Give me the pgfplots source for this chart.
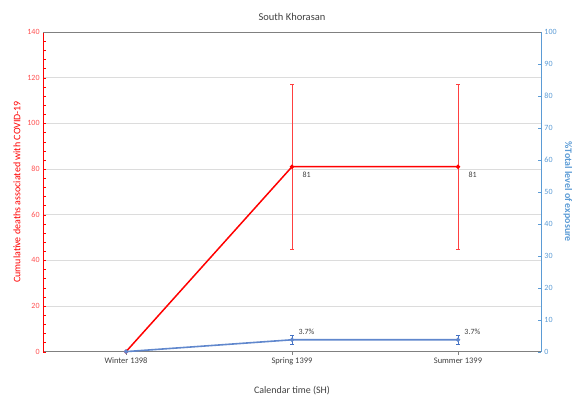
\documentclass[border=0pt]{standalone}
\usepackage{pgfplots}
\pgfplotsset{compat=1.18}
\usepackage{fontspec}
\setmainfont{Carlito}
\definecolor{redl}{RGB}{255,0,0}
\definecolor{redt}{RGB}{255,80,80}
\definecolor{bluel}{RGB}{68,114,196}
\definecolor{bluea}{RGB}{91,155,213}
\definecolor{gridc}{RGB}{220,220,220}
\definecolor{txt}{RGB}{64,64,64}
\begin{document}
\begin{tikzpicture}
\begin{axis}[
  name=left,
  /pgf/number format/assume math mode=true,
  scale only axis, width=497bp, height=319bp,
  xmin=-0.5, xmax=2.5, ymin=0, ymax=140,
  xtick={0,1,2}, xticklabels={Winter 1398, Spring 1399, Summer 1399},
  ytick={0,20,...,140}, minor y tick num=4,
  axis x line*=bottom, axis y line*=left,
  x axis line style={-, draw=gray, line width=0.8pt},
  y axis line style={-, draw=redl, line width=0.6pt},
  ymajorgrids, grid style={gridc, line width=0.6pt},
  xtick align=outside, ytick align=inside,
  major tick length=3bp, minor tick length=2.5bp,
  xtick style={draw=gray},
  ytick style={draw=redl},
  yticklabel style={font=\fontsize{8}{9}\selectfont, text=redt},
  xticklabel style={font=\fontsize{8.5}{10}\selectfont, text=txt},
  ylabel={Cumulative deaths associated with COVID-19},
  ylabel style={font=\fontsize{10}{12}\selectfont, text=redl},
  xlabel={Calendar time (SH)},
  xlabel style={font=\fontsize{10}{12}\selectfont, text=txt, yshift=-14bp},
  title={South Khorasan},
  title style={font=\fontsize{10.5}{12}\selectfont, text=txt, yshift=2bp},
  clip=false,
]
\addplot[redl, line width=1.5pt, mark=*, mark size=1.3pt,
  error bars/.cd, y dir=both, y explicit,
  error bar style={redl!75, line width=0.5pt},
  error mark options={rotate=90, mark size=1.6pt, redl!75, line width=0.5pt}]
  coordinates {(0,0) +- (0,0) (1,81) +- (0,36) (2,81) +- (0,36)};
\addplot[draw=none, mark=none, nodes near coords,
  point meta=explicit symbolic,
  every node near coord/.style={anchor=north west, xshift=7bp, yshift=-2bp,
    font=\fontsize{8}{9}\selectfont, text=txt}]
  coordinates {(1,81) [81] (2,81) [81]};
\end{axis}
\begin{axis}[
  /pgf/number format/assume math mode=true,
  scale only axis, width=497bp, height=319bp,
  xmin=-0.5, xmax=2.5, ymin=0, ymax=100,
  axis x line=none, axis y line*=right,
  y axis line style={-, draw=bluea, line width=0.6pt},
  ytick={0,10,...,100},
  ytick align=inside, major tick length=3bp,
  ytick style={draw=bluea},
  yticklabel style={font=\fontsize{8}{9}\selectfont, text=bluea},
  ylabel={\bfseries \%Total level of exposure},
  ylabel style={font=\fontsize{10}{12}\selectfont, text=bluea, rotate=180},
  clip=false,
]
\addplot[bluel!85, line width=1.6pt, mark=*, mark size=1.3pt,
  error bars/.cd, y dir=both, y explicit,
  error bar style={bluel, line width=0.6pt},
  error mark options={rotate=90, mark size=1.8pt, bluel, line width=0.6pt}]
  coordinates {(0,0) +- (0,0) (1,3.7) +- (0,1.4) (2,3.7) +- (0,1.4)};
\addplot[draw=none, mark=none, nodes near coords,
  point meta=explicit symbolic,
  every node near coord/.style={anchor=south west, xshift=3bp, yshift=2bp,
    font=\fontsize{8}{9}\selectfont, text=txt}]
  coordinates {(1,3.7) [3.7\%] (2,3.7) [3.7\%]};
\end{axis}
\draw[gray, line width=0.8pt] (left.north west) -- (left.north east);
\useasboundingbox ([xshift=-43bp, yshift=-51bp]left.south west) rectangle ([xshift=37bp, yshift=32bp]left.north east);
\end{tikzpicture}
\end{document}
